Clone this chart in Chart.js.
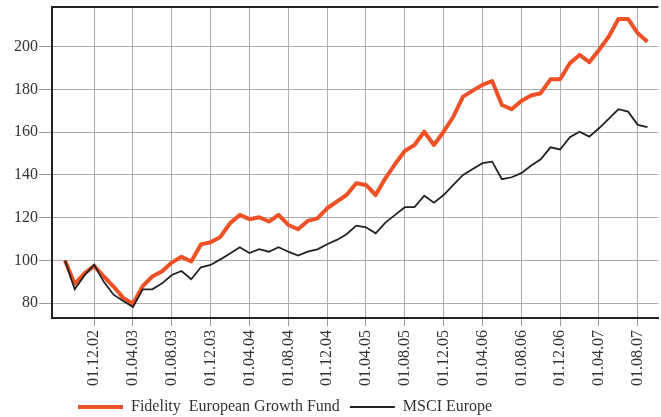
<!DOCTYPE html>
<html>
<head>
<meta charset="utf-8">
<script src="https://cdn.jsdelivr.net/npm/chart.js@4.4.0/dist/chart.umd.min.js"></script>
<style>
  html, body { margin: 0; padding: 0; background: #fff; }
  #wrap { width: 661px; height: 417px; }
</style>
</head>
<body>
<div id="wrap"><canvas id="chart"></canvas></div>
<script>
// ── DATA ─────────────────────────────────────────────
const months = [
  '01.09.02','01.10.02','01.11.02','01.12.02',
  '01.01.03','01.02.03','01.03.03','01.04.03','01.05.03','01.06.03','01.07.03','01.08.03','01.09.03','01.10.03','01.11.03','01.12.03',
  '01.01.04','01.02.04','01.03.04','01.04.04','01.05.04','01.06.04','01.07.04','01.08.04','01.09.04','01.10.04','01.11.04','01.12.04',
  '01.01.05','01.02.05','01.03.05','01.04.05','01.05.05','01.06.05','01.07.05','01.08.05','01.09.05','01.10.05','01.11.05','01.12.05',
  '01.01.06','01.02.06','01.03.06','01.04.06','01.05.06','01.06.06','01.07.06','01.08.06','01.09.06','01.10.06','01.11.06','01.12.06',
  '01.01.07','01.02.07','01.03.07','01.04.07','01.05.07','01.06.07','01.07.07','01.08.07','01.09.07'
];

const tickLabels = [
  '01.12.02','01.04.03','01.08.03','01.12.03','01.04.04','01.08.04','01.12.04',
  '01.04.05','01.08.05','01.12.05','01.04.06','01.08.06','01.12.06','01.04.07','01.08.07'
];

const fund = [
  100, 89, 94, 97.5, 92.5, 87.8, 82.5, 79.8, 88, 92.5, 95, 99, 101.7, 99.5, 107.5, 108.5,
  111, 117.4, 121.3, 119.3, 120.2, 118.2, 121.3, 116.6, 114.6, 118.5, 119.7, 124.4,
  127.5, 130.6, 136.1, 135.3, 130.6, 138.4, 145.1, 151.2, 154, 160.2, 154, 160.2,
  167.2, 176.6, 179.4, 182.1, 183.9, 172.7, 170.7, 174.6, 177.1, 178.2, 184.7, 184.7,
  192.2, 196.1, 192.7, 198.4, 204.6, 212.9, 212.9, 206.2, 202.3
];

const msci = [
  100, 86.5, 93, 98, 90, 84, 81, 78.3, 86.5, 86.5, 89.3, 93.2, 95.1, 91.2, 96.8, 97.9,
  100.5, 103.3, 106.2, 103.5, 105.3, 104.1, 106.2, 104.1, 102.3, 104.1, 105.2, 107.6,
  109.6, 112.3, 116.3, 115.5, 112.7, 117.7, 121.3, 124.9, 124.9, 130.3, 127, 130.6,
  135.3, 140, 142.8, 145.5, 146.2, 138, 138.9, 140.8, 144.3, 147.3, 152.9, 151.9,
  157.6, 160.2, 157.9, 161.8, 166.2, 170.7, 169.6, 163.4, 162.3
];

const seriesNames = ['Fidelity  European Growth Fund', 'MSCI Europe'];

// ── STYLE ────────────────────────────────────────────
const orange = '#ef5126';
const dark = '#222';
const gridColor = '#acacac';
const textColor = '#333';
const serif = { family: 'Liberation Serif', size: 16 };

// top frame line (no axis there)
const frame = {
  id: 'frame',
  afterDraw(chart) {
    const { ctx, chartArea: a } = chart;
    ctx.save();
    ctx.strokeStyle = dark;
    ctx.lineWidth = 2;
    ctx.beginPath();
    ctx.moveTo(a.left - 1, a.top);
    ctx.lineTo(a.right, a.top);
    ctx.stroke();
    ctx.restore();
  }
};

// legend sits under the labels, a bit in from the left
const legendShift = {
  id: 'legendShift',
  afterLayout(chart) {
    if (!chart.legend) return;
    chart.legend.left += 68;
    chart.legend.top += 3;
  }
};

const toPoints = arr => arr.map((v, i) => ({ x: i, y: v }));

new Chart(document.getElementById('chart'), {
  type: 'line',
  data: {
    datasets: [
      {
        label: seriesNames[0],
        data: toPoints(fund),
        borderColor: orange,
        backgroundColor: orange,
        borderWidth: 4,
        borderJoinStyle: 'round',
        pointRadius: 0,
        tension: 0,
        order: 2,
      },
      {
        label: seriesNames[1],
        data: toPoints(msci),
        borderColor: dark,
        backgroundColor: dark,
        borderWidth: 1.8,
        pointRadius: 0,
        tension: 0,
        order: 1,
      }
    ]
  },
  options: {
    responsive: true,
    maintainAspectRatio: false,
    animation: false,
    devicePixelRatio: 1,
    layout: { padding: { top: 7, right: 0, bottom: -5, left: 0 } },
    plugins: {
      tooltip: { enabled: false },
      legend: {
        position: 'bottom',
        align: 'start',
        labels: {
          usePointStyle: true,
          pointStyle: 'line',
          pointStyleWidth: 45,
          color: textColor,
          font: serif,
          padding: 10,
          sort: (a, b) => a.datasetIndex - b.datasetIndex,
        }
      }
    },
    scales: {
      x: {
        type: 'linear',
        min: -1.34,
        max: 61.12,
        afterBuildTicks: s => { s.ticks = tickLabels.map(l => ({ value: months.indexOf(l) })); },
        afterFit: s => { s.height = 68; },
        grid: { color: gridColor, tickColor: '#999', tickLength: 8 },
        border: { color: dark, width: 2 },
        ticks: {
          autoSkip: false,
          minRotation: 90,
          maxRotation: 90,
          padding: 4,
          color: textColor,
          font: serif,
          callback: v => months[v],
        }
      },
      y: {
        min: 73.1,
        max: 218.5,
        afterFit: s => { s.width = 52; s.paddingTop = 0; s.paddingBottom = 0; },
        grid: { color: gridColor, tickColor: '#999', tickLength: 13 },
        border: { color: dark, width: 2 },
        ticks: {
          stepSize: 20,
          includeBounds: false,
          padding: 1,
          color: textColor,
          font: serif,
        }
      }
    }
  },
  plugins: [frame, legendShift]
});
</script>
</body>
</html>
